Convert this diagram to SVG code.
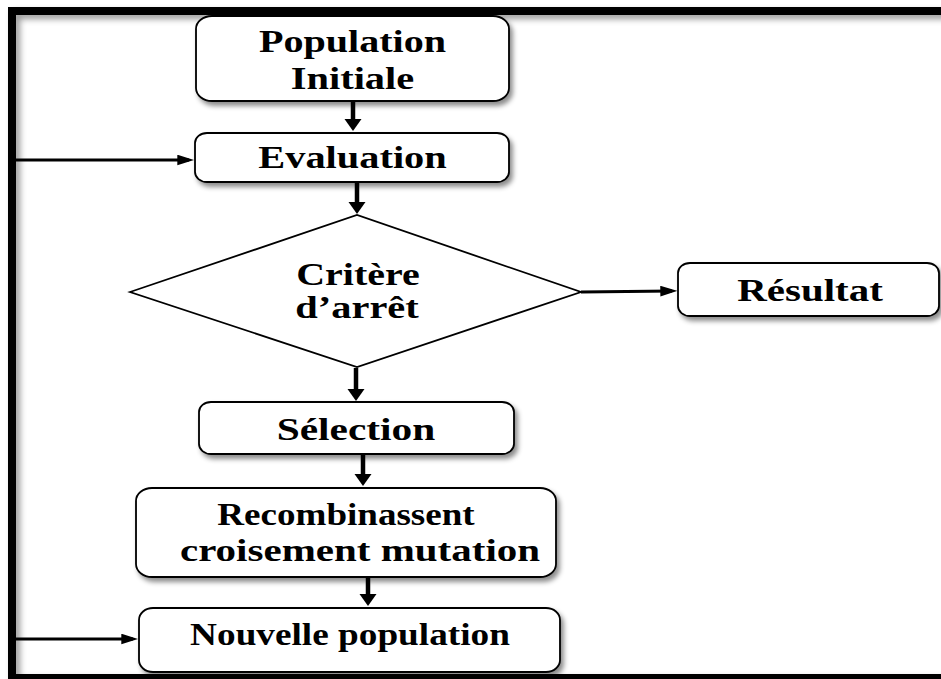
<svg xmlns="http://www.w3.org/2000/svg" width="941" height="679" viewBox="0 0 941 679">
  <defs>
    <filter id="shadow" x="-10%" y="-10%" width="130%" height="140%">
      <feDropShadow dx="3" dy="4" stdDeviation="2.5" flood-color="#000" flood-opacity="0.45"/>
    </filter>
    <filter id="frameShadow" x="-5%" y="-5%" width="110%" height="110%">
      <feDropShadow dx="4" dy="4" stdDeviation="3" flood-color="#000" flood-opacity="0.4"/>
    </filter>
    <marker id="headDown" markerUnits="userSpaceOnUse" markerWidth="12" markerHeight="18" refX="7" refY="8.5" orient="auto" viewBox="0 0 12 17">
      <path d="M0,0 L12,8.5 L0,17 Z" fill="#000"/>
    </marker>
    <marker id="headRight" markerUnits="userSpaceOnUse" markerWidth="17" markerHeight="11" refX="11" refY="5" orient="auto" viewBox="0 0 16 10">
      <path d="M0,0 L16,5 L0,10 Z" fill="#000"/>
    </marker>
  </defs>
  <style>
    .box { fill: #fff; stroke: #000; stroke-width: 1.8; }
    .lbl { font-family: "Liberation Serif", "Times New Roman", serif; font-weight: bold; font-size: 31px; fill: #000; text-anchor: middle; }
    .vline { fill: none; stroke: #000; stroke-width: 4.5; }
    .hline { fill: none; stroke: #000; stroke-width: 3; }
  </style>

  <rect width="941" height="679" fill="#fff"/>

  <!-- outer frame -->
  <rect x="12" y="11" width="960" height="667" fill="none" stroke="#000" stroke-width="8" filter="url(#frameShadow)"/>

  <!-- connectors -->
  <g id="connectors">
    <path class="vline" d="M353,101 V126" marker-end="url(#headDown)"/>
    <path class="vline" d="M357,182 V209" marker-end="url(#headDown)"/>
    <path class="hline" d="M581,292 L672,291" marker-end="url(#headRight)"/>
    <path class="vline" d="M356,368 V396" marker-end="url(#headDown)"/>
    <path class="vline" d="M363,454 V481" marker-end="url(#headDown)"/>
    <path class="vline" d="M368,577 V601" marker-end="url(#headDown)"/>
    <path class="vline" d="M13,641 V160"/>
    <path class="hline" d="M13,160 H189" marker-end="url(#headRight)"/>
    <path class="hline" d="M13,639 H133" marker-end="url(#headRight)"/>
  </g>

  <!-- labels are widened with a horizontal scale of 1.3 -->
  <g id="population-initiale">
    <rect class="box" x="196" y="16" width="313" height="85" rx="16" ry="13" filter="url(#shadow)"/>
    <text class="lbl" transform="translate(352.5,52) scale(1.3,1)" textLength="144" lengthAdjust="spacingAndGlyphs">Population</text>
    <text class="lbl" transform="translate(352.5,89) scale(1.3,1)" textLength="95" lengthAdjust="spacingAndGlyphs">Initiale</text>
  </g>

  <g id="evaluation">
    <rect class="box" x="195" y="133" width="314" height="49" rx="12" ry="10" filter="url(#shadow)"/>
    <text class="lbl" transform="translate(352.5,168) scale(1.3,1)" textLength="145" lengthAdjust="spacingAndGlyphs">Evaluation</text>
  </g>

  <g id="critere-arret">
    <polygon class="box" points="130,292 357,215 581,292 357,367"/>
    <text class="lbl" transform="translate(358,285) scale(1.3,1)" textLength="95" lengthAdjust="spacingAndGlyphs">Critère</text>
    <text class="lbl" transform="translate(357,318) scale(1.3,1)" textLength="95" lengthAdjust="spacingAndGlyphs">d’arrêt</text>
  </g>

  <g id="resultat">
    <rect class="box" x="678" y="263" width="261" height="53" rx="12" ry="10" filter="url(#shadow)"/>
    <text class="lbl" transform="translate(810,301) scale(1.3,1)" textLength="112" lengthAdjust="spacingAndGlyphs">Résultat</text>
  </g>

  <g id="selection">
    <rect class="box" x="199" y="402" width="315" height="52" rx="12" ry="10" filter="url(#shadow)"/>
    <text class="lbl" transform="translate(356,440) scale(1.3,1)" textLength="122" lengthAdjust="spacingAndGlyphs">Sélection</text>
  </g>

  <g id="recombinaison">
    <rect class="box" x="136" y="488" width="420" height="89" rx="16" ry="13" filter="url(#shadow)"/>
    <text class="lbl" transform="translate(346,525) scale(1.3,1)" textLength="198" lengthAdjust="spacingAndGlyphs">Recombinassent</text>
    <text class="lbl" transform="translate(360,561) scale(1.3,1)" textLength="277" lengthAdjust="spacingAndGlyphs">croisement mutation</text>
  </g>

  <g id="nouvelle-population">
    <rect class="box" x="139" y="608" width="421" height="64" rx="14" ry="12" filter="url(#shadow)"/>
    <text class="lbl" transform="translate(350,645) scale(1.3,1)" textLength="246" lengthAdjust="spacingAndGlyphs">Nouvelle population</text>
  </g>
</svg>
